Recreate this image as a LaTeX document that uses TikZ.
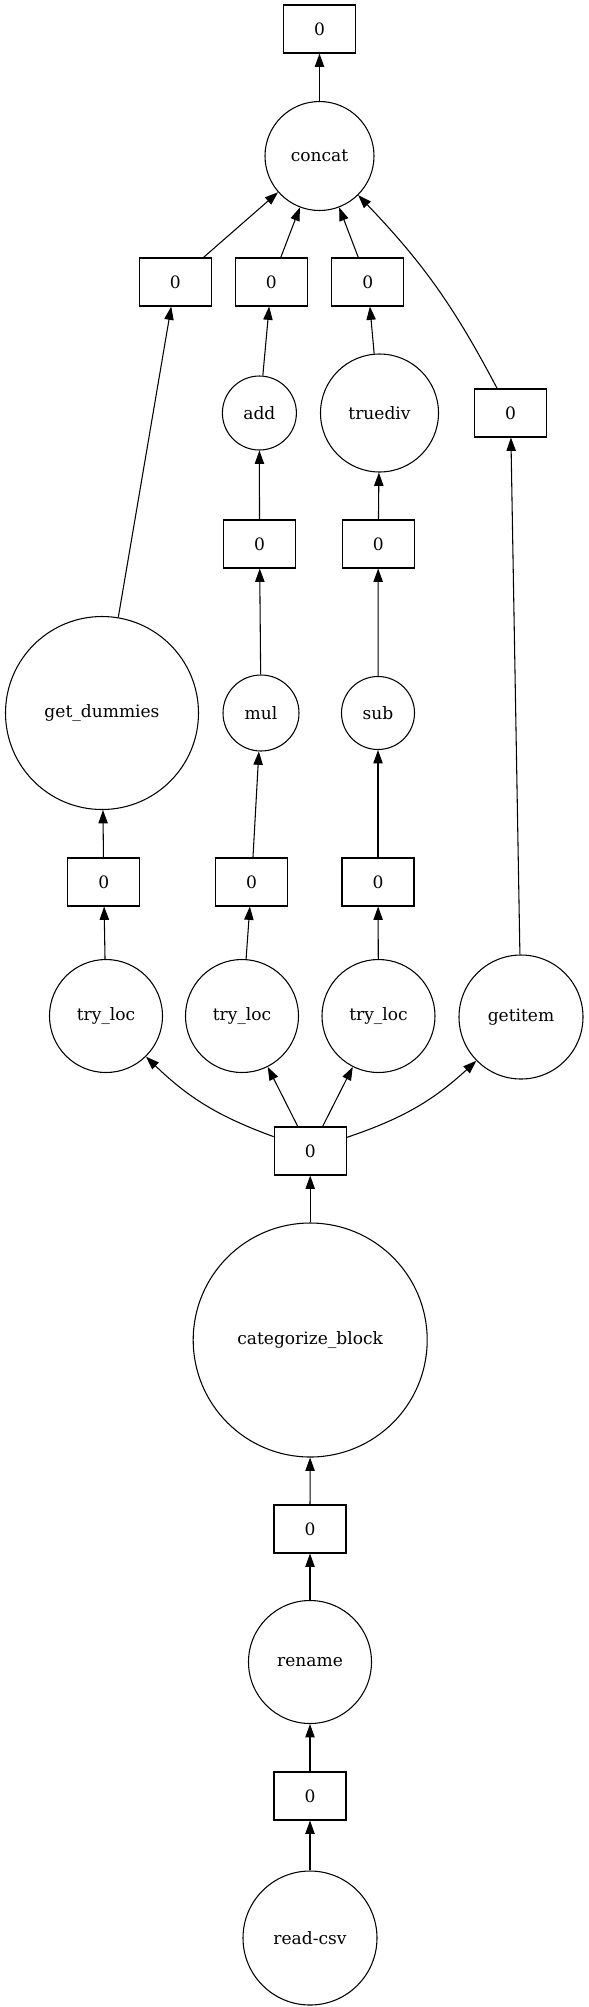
\documentclass[tikz,border=0pt]{standalone}
\usepackage{fontspec}
\setmainfont{DejaVu Serif}
\usetikzlibrary{arrows.meta}

\begin{document}
\begin{tikzpicture}[>={Triangle[length=10pt,width=7pt]}, x=0.75pt, y=-0.75pt,
    line width=0.8pt,
    every node/.style={font=\fontsize{12.8}{15}\selectfont},
    blk/.style={draw, rectangle, minimum width=54pt, minimum height=36pt, inner sep=0pt},
    fn/.style={draw, circle, minimum size=#1, inner sep=0pt}]

  \useasboundingbox (0,0) rectangle (589,2007);

  % top part
  \node[blk] (out) at (319.5,29) {0};
  \node[fn=81.75pt] (concat) at (319.5,156) {concat};
  \node[blk] (c1) at (175.4,282) {0};
  \node[blk] (c2) at (271.4,282) {0};
  \node[blk] (c3) at (367.7,282) {0};
  \node[fn=55.5pt] (add) at (259.4,413) {add};
  \node[fn=88.5pt] (truediv) at (379.5,413) {truediv};
  \node[blk] (c4) at (510.5,413) {0};
  \node[blk] (a1) at (259.5,544) {0};
  \node[blk] (d1) at (378.2,544) {0};

  % middle part
  \node[fn=144.75pt] (dummies) at (102,713) {get\_dummies};
  \node[fn=57pt] (mul) at (261,713) {mul};
  \node[fn=54.75pt] (sub) at (378,713) {sub};
  \node[blk] (t1) at (103.7,882) {0};
  \node[blk] (t2) at (251.6,882) {0};
  \node[blk] (t3) at (378,882) {0};
  \node[fn=84.75pt] (loc1) at (106,1016) {try\_loc};
  \node[fn=84.75pt] (loc2) at (242,1016) {try\_loc};
  \node[fn=84.75pt] (loc3) at (378.5,1016) {try\_loc};
  \node[fn=93pt] (getitem) at (521,1017) {getitem};
  \node[blk] (b) at (310.2,1151) {0};

  % bottom part
  \node[fn=175.5pt] (cat) at (310.2,1340) {categorize\_block};
  \node[blk] (r1) at (310,1529) {0};
  \node[fn=92.25pt] (rename) at (310,1662) {rename};
  \node[blk] (r0) at (310,1796) {0};
  \node[fn=100.5pt] (csv) at (310,1938) {read-csv};

  \draw[->] (csv) -- (r0);
  \draw[->] (r0) -- (rename);
  \draw[->] (rename) -- (r1);
  \draw[->] (r1) -- (cat);
  \draw[->] (cat) -- (b);
  \draw[->] (b) to[bend left=12] (loc1);
  \draw[->] (b) -- (loc2);
  \draw[->] (b) -- (loc3);
  \draw[->] (b) to[bend right=12] (getitem);
  \draw[->] (loc1) -- (t1);
  \draw[->] (loc2) -- (t2);
  \draw[->] (loc3) -- (t3);
  \draw[->] (t1) -- (dummies);
  \draw[->] (t2) -- (mul);
  \draw[->] (t3) -- (sub);
  \draw[->] (mul) -- (a1);
  \draw[->] (sub) -- (d1);
  \draw[->] (a1) -- (add);
  \draw[->] (d1) -- (truediv);
  \draw[->] (add) -- (c2);
  \draw[->] (truediv) -- (c3);
  \draw[->] (dummies) -- (c1);
  \draw[->] (getitem) -- (c4);
  \draw[->] (c1) -- (concat);
  \draw[->] (c2) -- (concat);
  \draw[->] (c3) -- (concat);
  \draw[->] (c4) to[bend right=8] (concat);
  \draw[->] (concat) -- (out);

\end{tikzpicture}
\end{document}
